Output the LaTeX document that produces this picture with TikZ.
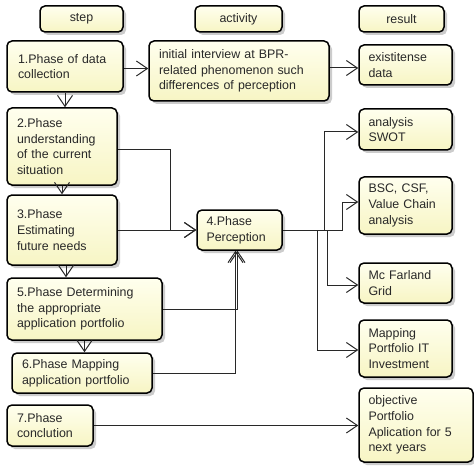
\documentclass[tikz,border=0pt]{standalone}
\usepackage{fontspec}
\setmainfont{Liberation Sans}
\usetikzlibrary{arrows.meta,shadows,calc}
\definecolor{boxtop}{RGB}{255,255,238}
\definecolor{boxbot}{RGB}{247,245,196}
\definecolor{txt}{RGB}{40,40,40}
\definecolor{ln}{RGB}{40,40,40}
\tikzset{
  box/.style={draw=black, line width=1.5pt, rounded corners=5pt,
    top color=boxtop, bottom color=boxbot, text=txt,
    drop shadow={shadow xshift=3pt, shadow yshift=-3pt, fill=black!25, opacity=0.8},
    font=\fontsize{12.4}{15.7}\selectfont, inner sep=0pt, align=left},
  hbox/.style={box, align=center},
  arr/.style={draw=ln, line width=1pt, -{Straight Barb[length=11pt,width=15pt,line width=1pt]}},
}
\begin{document}
\begin{tikzpicture}[x=1pt,y=-1pt]
\useasboundingbox (0,0) rectangle (474,468);
% headers
\node[hbox, minimum width=83pt, minimum height=26pt] (hstep) at (81.5,19) {step};
\node[hbox, minimum width=87pt, minimum height=26pt] (hact) at (238.5,19) {activity};
\node[hbox, minimum width=85pt, minimum height=26pt] (hres) at (401.5,19) {result};
% steps
\node[box, minimum width=116pt, minimum height=51pt, text width=94pt] (n1) at (65,66.5) {1.Phase of data\\collection};
\node[box, minimum width=180pt, minimum height=60pt, text width=160pt] (act) at (239,71) {initial interview at BPR-\\related phenomenon such\\differences of perception};
\node[box, minimum width=93pt, minimum height=40pt, text width=74pt] (ex) at (405.5,65) {existitense\\data};
\node[box, minimum width=110pt, minimum height=77pt, text width=90pt] (n2) at (62,146.5) {2.Phase\\understanding\\of the current\\situation};
\node[box, minimum width=110pt, minimum height=70pt, text width=90pt] (n3) at (62,230) {3.Phase\\Estimating\\future needs};
\node[box, minimum width=85pt, minimum height=40pt, text width=66pt] (n4) at (239.5,230) {4.Phase\\Perception};
\node[box, minimum width=155pt, minimum height=62pt, text width=135pt] (n5) at (84.5,309) {5.Phase Determining\\the appropriate\\application portfolio};
\node[box, minimum width=140pt, minimum height=40pt, text width=120pt] (n6) at (82,373) {6.Phase Mapping\\application portfolio};
\node[box, minimum width=86pt, minimum height=41pt, text width=66pt] (n7) at (50,425.5) {7.Phase\\conclution};
% results
\node[box, minimum width=93pt, minimum height=41pt, text width=74pt] (swot) at (405.5,129.5) {analysis\\SWOT};
\node[box, minimum width=93pt, minimum height=57pt, text width=74pt] (bsc) at (405.5,205.5) {BSC, CSF,\\Value Chain\\analysis};
\node[box, minimum width=93pt, minimum height=40pt, text width=74pt] (mcf) at (405.5,283) {Mc Farland\\Grid};
\node[box, minimum width=93pt, minimum height=57pt, text width=74pt] (map) at (405.5,348.5) {Mapping\\Portfolio IT\\Investment};
\node[box, minimum width=114pt, minimum height=74pt, text width=95pt] (obj) at (416,425) {objective\\Portfolio\\Aplication for 5\\next years};
% connectors
\draw[arr] (n1.south) -- (n1.south |- n2.north);
\draw[arr] ([yshift=-2pt]n1.east) -- ([yshift=-2pt]n1.east -| act.west);
\draw[arr] ([yshift=-3pt]ex.west -| act.east) -- ([yshift=-3pt]ex.west);
\draw[arr] (n2.south) -- (n2.south |- n3.north);
\draw[arr] ([yshift=-3pt]n2.east) -- ++(53,0) |- (n4.west);
\draw[arr] (n3.east) -- (n4.west);
\draw[arr] ([xshift=4pt]n3.south) -- ([xshift=4pt]n3.south |- n5.north);
\draw[arr] (n5.south) -- (n5.south |- n6.north);
\draw[arr] (n5.east) -| ([xshift=-2pt]n4.south);
\draw[arr] (n6.east) -| ([xshift=-4pt]n4.south);
\draw[arr] (n7.east) -- (n7.east -| obj.west);
\draw[arr] (n4.east) -- ++(42,0) |- ([yshift=-2.5pt]swot.west);
\draw[arr] (n4.east) -- ++(60,0) |- ([yshift=3.5pt]bsc.west);
\draw[arr] (n4.east) -- ++(45,0) |- ([yshift=-2pt]mcf.west);
\draw[arr] (n4.east) -- ++(35,0) |- ([yshift=-1.5pt]map.west);
\end{tikzpicture}
\end{document}
